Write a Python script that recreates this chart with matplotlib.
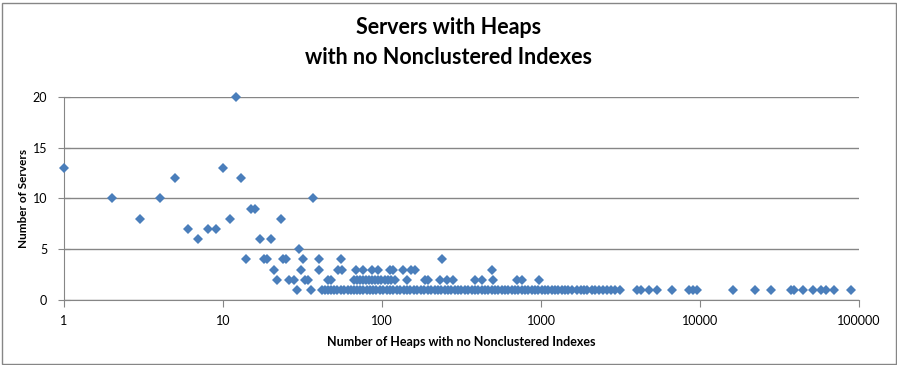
import matplotlib
matplotlib.use("Agg")
import matplotlib.pyplot as plt
from matplotlib.patches import Rectangle
from matplotlib.ticker import FixedLocator, NullLocator

# number of heaps per server, grouped by how many servers share that count
heaps_1 = [29, 36, 42, 44, 46, 48, 50, 52, 55, 58, 61, 64, 67, 70, 73, 76, 80, 84,
           88, 92, 97, 102, 107, 112, 118, 124, 130, 137, 144, 151, 159, 167, 176,
           185, 194, 204, 214, 225, 236, 248, 260, 273, 287, 301, 316, 332, 349,
           366, 384, 403, 423, 444, 466, 489, 513, 538, 565, 593, 622, 653, 685,
           719, 755, 792, 831, 872, 915, 960, 1008, 1058, 1110, 1165, 1223, 1283,
           1346, 1412, 1481, 1560, 1690, 1780, 1870, 1960, 2080, 2200, 2330, 2450,
           2600, 2750, 2900, 3150, 4000, 4250, 4800, 5350, 6700, 8500, 9000, 9600,
           16200, 22200, 27800, 37200, 38800, 44200, 51000, 57600, 62000, 70000,
           89000]
heaps_2 = [22, 26, 28, 33, 34, 46, 48, 67, 70, 73, 76, 79, 83, 87, 91, 95, 99,
           104, 109, 114, 120, 144, 186, 195, 231, 255, 281, 384, 424, 498, 705,
           757, 975]
heaps_3 = [21, 31, 40, 53, 56, 69, 76, 87, 94, 112, 117, 136, 153, 161, 490]
heaps_4 = [14, 18, 19, 24, 25, 32, 40, 55, 237]
heaps_5 = [30]
heaps_6 = [7, 17, 20]
heaps_7 = [6, 8, 9]
heaps_8 = [3, 11, 23]
heaps_9 = [15, 16]
heaps_10 = [2, 4, 37]
heaps_12 = [5, 13]
heaps_13 = [1, 10]
heaps_20 = [12]

groups = {1: heaps_1, 2: heaps_2, 3: heaps_3, 4: heaps_4, 5: heaps_5, 6: heaps_6,
          7: heaps_7, 8: heaps_8, 9: heaps_9, 10: heaps_10, 12: heaps_12,
          13: heaps_13, 20: heaps_20}

x_ticks = [1, 10, 100, 1000, 10000, 100000]
y_ticks = [0, 5, 10, 15, 20]

heaps = []
servers = []
for n, xs in groups.items():
    heaps += xs
    servers += [n] * len(xs)

plt.rcParams['font.family'] = ['Lato', 'DejaVu Sans']

fig = plt.figure(figsize=(8.97, 3.65), dpi=100)
ax = fig.add_axes([64 / 897, 1 - 300 / 365, (859 - 64) / 897, (300 - 97) / 365])

ax.plot(heaps, servers, linestyle='none', marker='D', markersize=5.5,
        color='#4a7ebb', markeredgewidth=0, clip_on=False, zorder=3)

ax.set_xscale('log')
ax.set_xlim(1, 100000)
ax.set_ylim(0, 20)
ax.xaxis.set_major_locator(FixedLocator(x_ticks))
ax.xaxis.set_minor_locator(NullLocator())
ax.set_xticklabels([str(v) for v in x_ticks])
ax.set_yticks(y_ticks)

ax.grid(axis='y', color='#868686', linewidth=1)
ax.set_axisbelow(True)
for s in ['top', 'right']:
    ax.spines[s].set_visible(False)
for s in ['left', 'bottom']:
    ax.spines[s].set_color('#868686')
ax.tick_params(axis='x', direction='out', length=5, color='#868686',
               labelsize=9, pad=6)
ax.tick_params(axis='y', direction='inout', length=8, color='#868686',
               labelsize=9, pad=8)

ax.set_xlabel('Number of Heaps with no Nonclustered Indexes', fontsize=9,
              fontweight='bold', labelpad=6)
ax.set_ylabel('Number of Servers', fontsize=8.5, fontweight='bold', labelpad=3)

fig.text(0.5, 1 - 27 / 365, 'Servers with Heaps', ha='center', va='center',
         fontsize=15.5, fontweight='bold')
fig.text(0.5, 1 - 57 / 365, 'with no Nonclustered Indexes', ha='center',
         va='center', fontsize=15.5, fontweight='bold')

fig.patches.append(Rectangle((1.5 / 897, 1.5 / 365), 894 / 897, 361 / 365,
                             transform=fig.transFigure, fill=False,
                             edgecolor='#868686', linewidth=1))

fig.savefig('out.png', dpi=100)
